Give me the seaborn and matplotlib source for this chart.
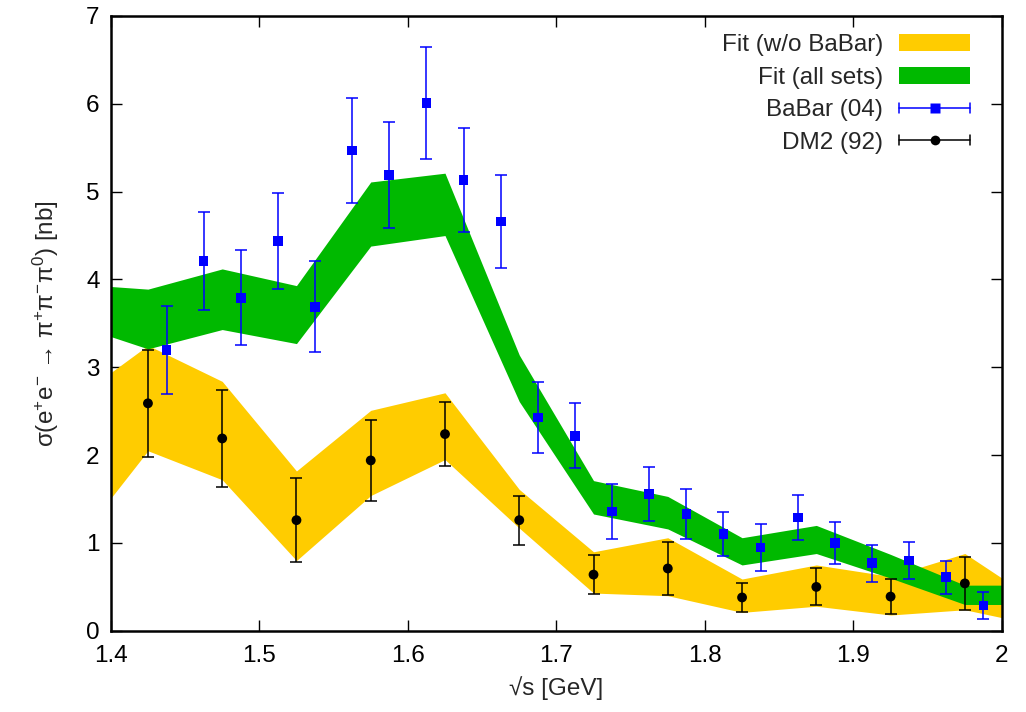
import matplotlib
matplotlib.use("Agg")
import matplotlib.pyplot as plt
import seaborn as sns
import pandas as pd
from matplotlib.patches import Rectangle
from matplotlib.lines import Line2D
from matplotlib.legend_handler import HandlerBase

# --- fit bands: vertices in sqrt(s) [GeV] with lower/upper cross-section [nb]
band_x = [1.4, 1.425, 1.475, 1.525, 1.575, 1.625, 1.675, 1.725, 1.775,
          1.825, 1.875, 1.925, 1.975, 2.0]
fit_all_lo = [3.35, 3.21, 3.43, 3.27, 4.38, 4.50, 2.61, 1.33, 1.16,
              0.75, 0.88, 0.60, 0.30, 0.30]
fit_all_hi = [3.92, 3.89, 4.12, 3.93, 5.11, 5.21, 3.14, 1.71, 1.53,
              1.06, 1.20, 0.87, 0.52, 0.52]
fit_nobabar_lo = [1.51, 2.05, 1.72, 0.80, 1.54, 1.95, 1.17, 0.43, 0.40,
                  0.21, 0.28, 0.18, 0.24, 0.15]
fit_nobabar_hi = [2.94, 3.25, 2.84, 1.82, 2.51, 2.71, 1.61, 0.90, 1.06,
                  0.59, 0.75, 0.62, 0.88, 0.60]

# --- BaBar (2004) measurements
babar_x = [1.4375, 1.4625, 1.4875, 1.5125, 1.5375, 1.5625, 1.5875, 1.6125,
           1.6375, 1.6625, 1.6875, 1.7125, 1.7375, 1.7625, 1.7875, 1.8125,
           1.8375, 1.8625, 1.8875, 1.9125, 1.9375, 1.9625, 1.9875]
babar_y = [3.20, 4.21, 3.79, 4.44, 3.69, 5.47, 5.19, 6.01, 5.13, 4.66, 2.43,
           2.22, 1.36, 1.56, 1.33, 1.10, 0.95, 1.29, 1.00, 0.77, 0.80, 0.61,
           0.29]
babar_err = [0.50, 0.56, 0.54, 0.55, 0.52, 0.60, 0.60, 0.64, 0.59, 0.53, 0.40,
             0.37, 0.31, 0.31, 0.29, 0.25, 0.27, 0.26, 0.24, 0.21, 0.21, 0.19,
             0.155]

# --- DM2 (1992) measurements
dm2_x = [1.425, 1.475, 1.525, 1.575, 1.625, 1.675, 1.725, 1.775, 1.825,
         1.875, 1.925, 1.975]
dm2_y = [2.59, 2.19, 1.26, 1.94, 2.24, 1.26, 0.64, 0.71, 0.38, 0.50, 0.39,
         0.54]
dm2_err = [0.61, 0.55, 0.48, 0.46, 0.36, 0.28, 0.22, 0.30, 0.17, 0.21, 0.20,
           0.30]

YELLOW = "#ffcc00"
GREEN = "#00b900"
BLUE = "#0000ff"
BLACK = "#000000"

sns.set_theme(style="ticks")
plt.rcParams["font.family"] = ["Liberation Sans", "DejaVu Sans"]
plt.rcParams["mathtext.fontset"] = "custom"
plt.rcParams["mathtext.rm"] = "Liberation Sans"
plt.rcParams["mathtext.it"] = "Liberation Sans:italic"
plt.rcParams["mathtext.default"] = "regular"
FS = 17.5

fig = plt.figure(figsize=(10.26, 7.12), dpi=100)
ax = fig.add_axes([0.108, 0.114, 0.8686, 0.8636])

bands = pd.DataFrame({"x": band_x, "all_lo": fit_all_lo, "all_hi": fit_all_hi,
                      "nb_lo": fit_nobabar_lo, "nb_hi": fit_nobabar_hi})
ax.fill_between(bands["x"], bands["nb_lo"], bands["nb_hi"], color=YELLOW,
                lw=0, zorder=1)
ax.fill_between(bands["x"], bands["all_lo"], bands["all_hi"], color=GREEN,
                lw=0, zorder=2)

babar = pd.DataFrame({"x": babar_x, "y": babar_y, "err": babar_err})
dm2 = pd.DataFrame({"x": dm2_x, "y": dm2_y, "err": dm2_err})

ax.errorbar(babar["x"], babar["y"], yerr=babar["err"], fmt="none",
            ecolor=BLUE, elinewidth=1.1, capsize=4.2, capthick=1.1, zorder=3)
sns.scatterplot(data=babar, x="x", y="y", marker="s", s=48, color=BLUE,
                edgecolor="none", ax=ax, zorder=4, legend=False)
ax.errorbar(dm2["x"], dm2["y"], yerr=dm2["err"], fmt="none",
            ecolor=BLACK, elinewidth=1.1, capsize=4.2, capthick=1.1, zorder=5)
sns.scatterplot(data=dm2, x="x", y="y", marker="o", s=50, color=BLACK,
                edgecolor="none", ax=ax, zorder=6, legend=False)

ax.set_xlim(1.4, 2.0)
ax.set_ylim(0, 7)
ax.set_xticks([1.4, 1.5, 1.6, 1.7, 1.8, 1.9, 2.0])
ax.set_xticklabels(["1.4", "1.5", "1.6", "1.7", "1.8", "1.9", "2"])
ax.set_yticks(range(0, 8))
ax.tick_params(direction="in", length=8, width=1.0, top=True, right=True,
               labelsize=FS, colors="black")
ax.tick_params(axis="x", pad=10)
ax.tick_params(axis="y", pad=8)
for sp in ax.spines.values():
    sp.set_linewidth(1.8)
    sp.set_color("black")
    sp.set_visible(True)

ax.set_xlabel("√s [GeV]", fontsize=FS, labelpad=7)
ax.set_ylabel("σ(e$^{+}$e$^{-}$ → π$^{+}$π$^{-}$π$^{0}$) [nb]", fontsize=FS,
              labelpad=18)


class HandlerHorizontalBar(HandlerBase):
    """Horizontal error-bar legend glyph: line, end caps and a centre marker."""

    def __init__(self, color, marker, ms):
        super().__init__()
        self.color = color
        self.marker = marker
        self.ms = ms

    def create_artists(self, legend, orig_handle, xdescent, ydescent, width,
                       height, fontsize, trans):
        y = height / 2 - ydescent
        x0, x1 = -xdescent, width - xdescent
        cap = 0.3 * height
        arts = [
            Line2D([x0, x1], [y, y], color=self.color, lw=1.1),
            Line2D([x0, x0], [y - cap, y + cap], color=self.color, lw=1.1),
            Line2D([x1, x1], [y - cap, y + cap], color=self.color, lw=1.1),
            Line2D([(x0 + x1) / 2], [y], marker=self.marker, ls="none",
                   color=self.color, ms=self.ms, mec="none"),
        ]
        for a in arts:
            a.set_transform(trans)
        return arts


h_nb = Rectangle((0, 0), 1, 1, color=YELLOW, lw=0)
h_all = Rectangle((0, 0), 1, 1, color=GREEN, lw=0)
h_babar = Line2D([], [], color=BLUE)
h_dm2 = Line2D([], [], color=BLACK)
ax.legend([h_nb, h_all, h_babar, h_dm2],
          ["Fit (w/o BaBar)", "Fit (all sets)", "BaBar (04)", "DM2 (92)"],
          handler_map={h_babar: HandlerHorizontalBar(BLUE, "s", 7),
                       h_dm2: HandlerHorizontalBar(BLACK, "o", 7)},
          loc="upper right", bbox_to_anchor=(0.964, 0.970), borderaxespad=0,
          borderpad=0, frameon=False, markerfirst=False, fontsize=FS,
          handlelength=2.9, handleheight=0.7, handletextpad=0.68,
          labelspacing=0.43)

fig.savefig("out.png", dpi=100)
